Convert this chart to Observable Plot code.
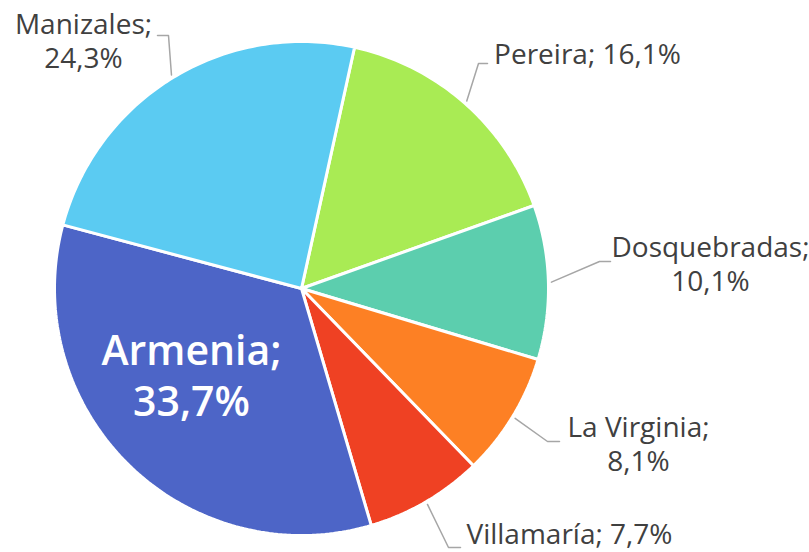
<!DOCTYPE html>
<html>
<head>
<meta charset="utf-8">
<script src="https://cdn.jsdelivr.net/npm/d3@7"></script>
<script src="https://cdn.jsdelivr.net/npm/@observablehq/plot@0.6"></script>
<style>
  html, body { margin: 0; padding: 0; background: #fff; }
  #chart svg { display: block; }
</style>
</head>
<body>
<div id="chart"></div>
<script>
// ---- data ----
const cities = ["Pereira", "Dosquebradas", "La Virginia", "Villamaría", "Armenia", "Manizales"];
const shares = [16.1, 10.1, 8.1, 7.7, 33.7, 24.3];
const colors = ["#A9EB54", "#5CCEAE", "#FD8024", "#EF4123", "#4D65C7", "#5BCBF2"];

// ---- layout ----
const W = 809, H = 552;
const cx = 301, cy = 288, R = 247;
const startDeg = 12.4;              // clockwise from 12 o'clock
const font = "Open Sans";
const labelLayout = {
  "Pereira":      {tx: 587, ty: 63,  wrap: false, ex: 478, ey: 63,  hx: 487},
  "Dosquebradas": {tx: 710, ty: 290, wrap: true,  ex: 599, ey: 261, hx: 610},
  "La Virginia":  {tx: 638, ty: 470, wrap: true,  ex: 547, ey: 441, hx: 559},
  "Villamaría":   {tx: 569, ty: 543, wrap: false, ex: 448, ey: 547, hx: 460},
  "Manizales":    {tx: 83,  ty: 67,  wrap: true,  ex: 168, ey: 35,  hx: 157}
};

const data = cities.map((name, i) => ({name, value: shares[i], color: colors[i]}));
const fmt = v => v.toFixed(1).replace(".", ",") + "%";

const pie = d3.pie().sort(null).value(d => d.value)
  .startAngle(startDeg * Math.PI / 180)
  .endAngle(startDeg * Math.PI / 180 + 2 * Math.PI);
const arcs = pie(data);

const px = (a, r) => cx + r * Math.sin(a);
const py = (a, r) => cy - r * Math.cos(a);

const slicePts = [];
for (const a of arcs) {
  slicePts.push({name: a.data.name, x: cx, y: cy});
  const n = Math.max(2, Math.ceil((a.endAngle - a.startAngle) / (Math.PI / 180)));
  for (let k = 0; k <= n; k++) {
    const t = a.startAngle + (a.endAngle - a.startAngle) * k / n;
    slicePts.push({name: a.data.name, x: px(t, R), y: py(t, R)});
  }
}

const leaderPts = [];
const labels = [];
for (const a of arcs) {
  const name = a.data.name;
  const mid = (a.startAngle + a.endAngle) / 2;
  const L = labelLayout[name];
  const txt = name + ";" + (L && L.wrap ? "\n" : " ") + fmt(a.data.value);
  if (L) {
    leaderPts.push({name, x: px(mid, R + 3), y: py(mid, R + 3)});
    leaderPts.push({name, x: L.ex, y: L.ey});
    leaderPts.push({name, x: L.hx, y: L.ey});
    labels.push({name, text: txt, x: L.tx, y: L.ty});
  }
}
const armenia = arcs.find(a => a.data.name === "Armenia");
const inside = [{text: "Armenia;\n" + fmt(armenia.data.value), x: 191, y: 415}];

const chart = Plot.plot({
  width: W, height: H,
  margin: 0,
  x: {domain: [0, W], range: [0, W], axis: null},
  y: {domain: [0, H], range: [0, H], axis: null},
  color: {domain: cities, range: colors},
  style: {fontFamily: font, background: "#fff"},
  marks: [
    Plot.line(slicePts, {x: "x", y: "y", z: "name", fill: "name", stroke: "#fff", strokeWidth: 3, curve: "linear-closed", strokeLinejoin: "miter"}),
    Plot.line(leaderPts, {x: "x", y: "y", z: "name", stroke: "#A6A6A6", strokeWidth: 1.5}),
    Plot.text(labels, {x: "x", y: "y", text: "text", fill: "#404040", fontSize: 28, lineAnchor: "bottom", lineHeight: 1.2, textAnchor: "middle"}),
    Plot.text(inside, {x: "x", y: "y", text: "text", fill: "#fff", fontSize: 41, fontWeight: 600, lineAnchor: "bottom", lineHeight: 1.22, textAnchor: "middle"})
  ]
});
document.getElementById("chart").appendChild(chart);
</script>
</body>
</html>
